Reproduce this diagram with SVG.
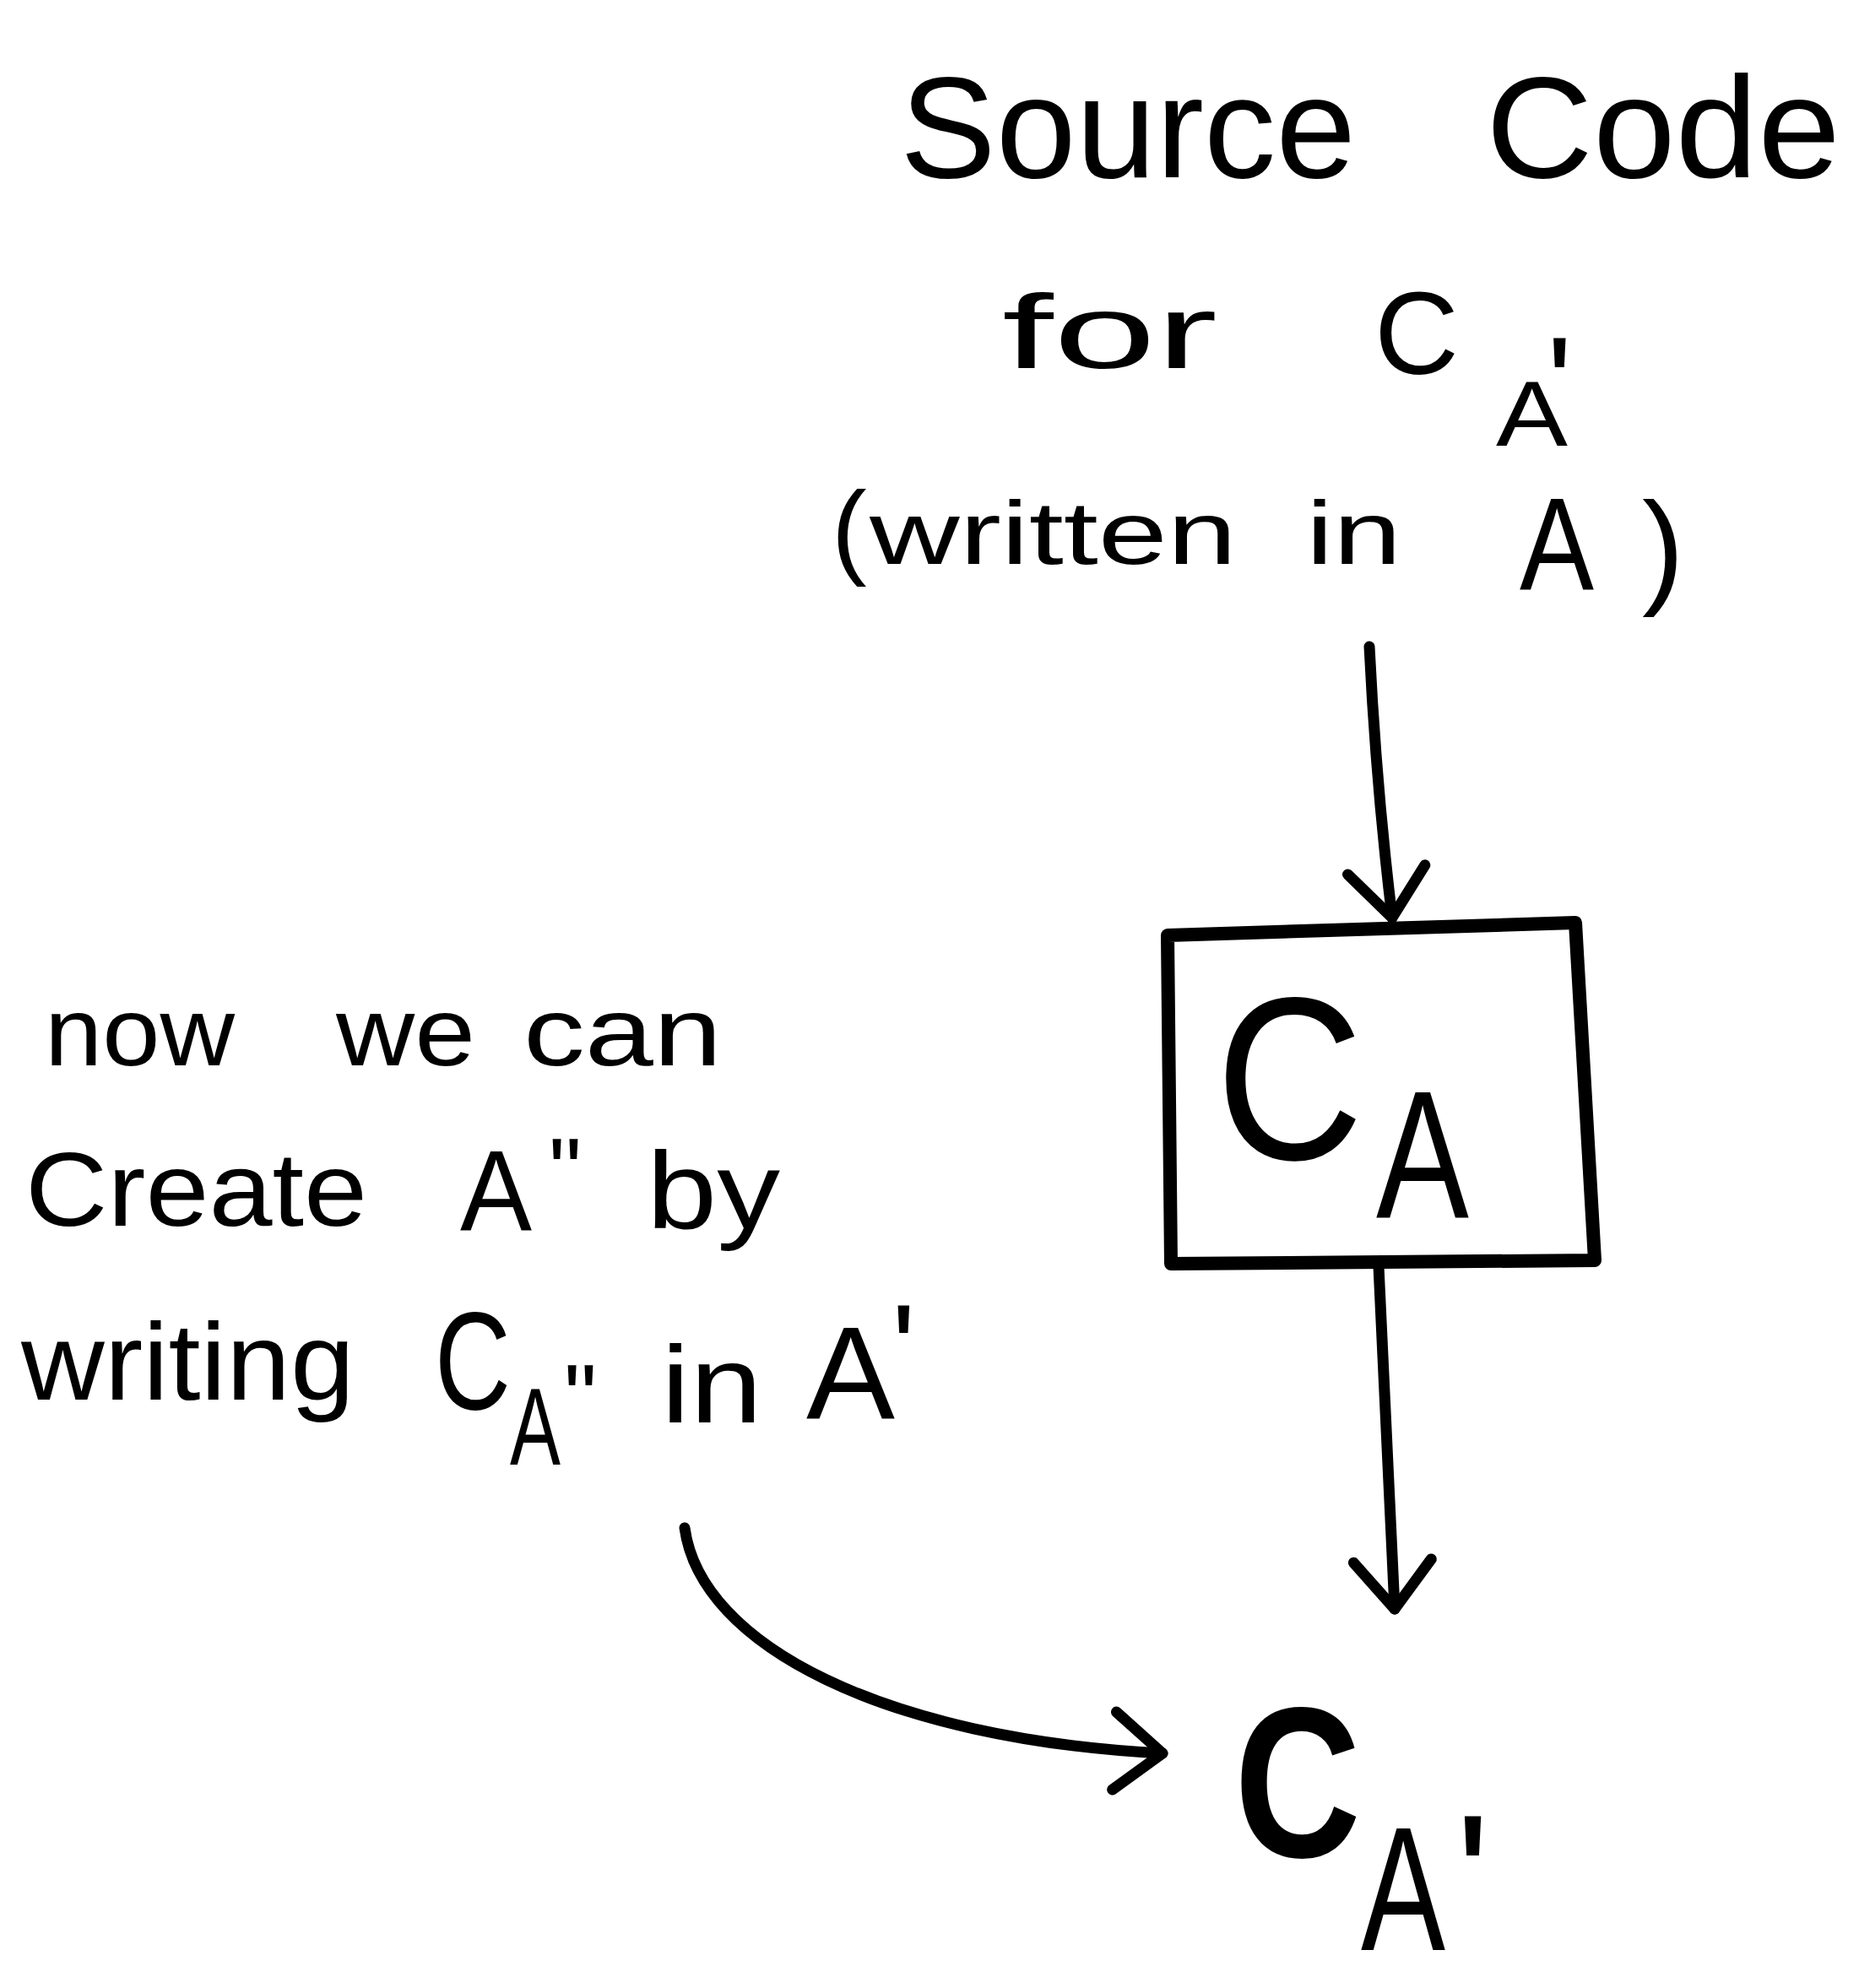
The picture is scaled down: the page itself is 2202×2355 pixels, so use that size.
<svg xmlns="http://www.w3.org/2000/svg" width="2202" height="2355" viewBox="0 0 2202 2355">
<defs>
<style>
.t{font-family:"Liberation Sans","DejaVu Sans",sans-serif;fill:#000}
.ln{fill:none;stroke:#000;stroke-width:13;stroke-linecap:round;stroke-linejoin:round}
.box{fill:none;stroke:#000;stroke-width:16;stroke-linejoin:round}
</style>
<marker id="ah" markerUnits="userSpaceOnUse" viewBox="-80 -70 100 140" refX="0" refY="0" markerWidth="100" markerHeight="140" orient="auto" overflow="visible">
<path d="M-57 -46 L0 0 L-57 46" fill="none" stroke="#000" stroke-width="13" stroke-linecap="round" stroke-linejoin="round"/>
</marker>
</defs>
<rect width="2202" height="2355" fill="#fff"/>
<g id="source-code-label">
<text class="t" x="1066" y="210" font-size="170" textLength="540" lengthAdjust="spacingAndGlyphs">Source</text>
<text class="t" x="1760" y="210" font-size="170" textLength="420" lengthAdjust="spacingAndGlyphs">Code</text>
<text class="t" x="1187" y="436" font-size="125" textLength="255" lengthAdjust="spacingAndGlyphs">for</text>
<text class="t" font-size="140"><tspan x="1628" y="443" textLength="100" lengthAdjust="spacingAndGlyphs">C</tspan><tspan x="1772" y="528" font-size="110" textLength="85" lengthAdjust="spacingAndGlyphs">A</tspan><tspan x="1832" y="510" font-size="160">'</tspan></text>
<text class="t" x="985" y="669" font-size="125">(</text>
<text class="t" x="1030" y="668" font-size="105" textLength="435" lengthAdjust="spacingAndGlyphs">written</text>
<text class="t" x="1547" y="668" font-size="105" textLength="113" lengthAdjust="spacingAndGlyphs">in</text>
<text class="t" x="1800" y="698" font-size="155" textLength="88" lengthAdjust="spacingAndGlyphs">A</text>
<text class="t" x="1945" y="700" font-size="150">)</text>
</g>
<g id="node-CA">
<path class="box" d="M1383 1108 L1866 1093 L1889 1493 L1387 1497 Z"/>
<text class="t" font-size="275"><tspan x="1440" y="1373" textLength="175" lengthAdjust="spacingAndGlyphs">C</tspan><tspan x="1630" y="1442" font-size="215" textLength="110" lengthAdjust="spacingAndGlyphs">A</tspan></text>
</g>
<g id="node-CA-prime">
<text class="t" font-size="255"><tspan x="1462" y="2200" font-weight="bold" textLength="150" lengthAdjust="spacingAndGlyphs">C</tspan><tspan x="1612" y="2310" font-size="210" textLength="100" lengthAdjust="spacingAndGlyphs">A</tspan><tspan x="1724" y="2300" font-size="215">'</tspan></text>
</g>
<g id="note">
<text class="t" x="53" y="1262" font-size="115" textLength="225" lengthAdjust="spacingAndGlyphs">now</text>
<text class="t" x="398" y="1262" font-size="115" textLength="165" lengthAdjust="spacingAndGlyphs">we</text>
<text class="t" x="620" y="1262" font-size="115" textLength="235" lengthAdjust="spacingAndGlyphs">can</text>
<text class="t" x="30" y="1452" font-size="125" textLength="405" lengthAdjust="spacingAndGlyphs">Create</text>
<text class="t" font-size="135"><tspan x="545" y="1457" textLength="85" lengthAdjust="spacingAndGlyphs">A</tspan><tspan x="650" y="1425" font-size="110">"</tspan></text>
<text class="t" x="766" y="1455" font-size="130" textLength="158" lengthAdjust="spacingAndGlyphs">by</text>
<text class="t" x="25" y="1658" font-size="130" textLength="395" lengthAdjust="spacingAndGlyphs">writing</text>
<text class="t" font-size="165"><tspan x="515" y="1669" textLength="90" lengthAdjust="spacingAndGlyphs">C</tspan><tspan x="604" y="1735" font-size="130" textLength="60" lengthAdjust="spacingAndGlyphs">A</tspan><tspan x="668" y="1693" font-size="110">"</tspan></text>
<text class="t" x="783" y="1685" font-size="130" textLength="120" lengthAdjust="spacingAndGlyphs">in</text>
<text class="t" font-size="155"><tspan x="955" y="1680" textLength="105" lengthAdjust="spacingAndGlyphs">A</tspan><tspan x="1056" y="1650" font-size="150">'</tspan></text>
</g>
<g id="connectors">
<path class="ln" d="M1622 766 Q1630 930 1649 1087" marker-end="url(#ah)"/>
<path class="ln" d="M1633 1500 L1652 1906" marker-end="url(#ah)"/>
<path class="ln" d="M811 1810 C830 1950 1050 2060 1377 2077" marker-end="url(#ah)"/>
</g>
</svg>
